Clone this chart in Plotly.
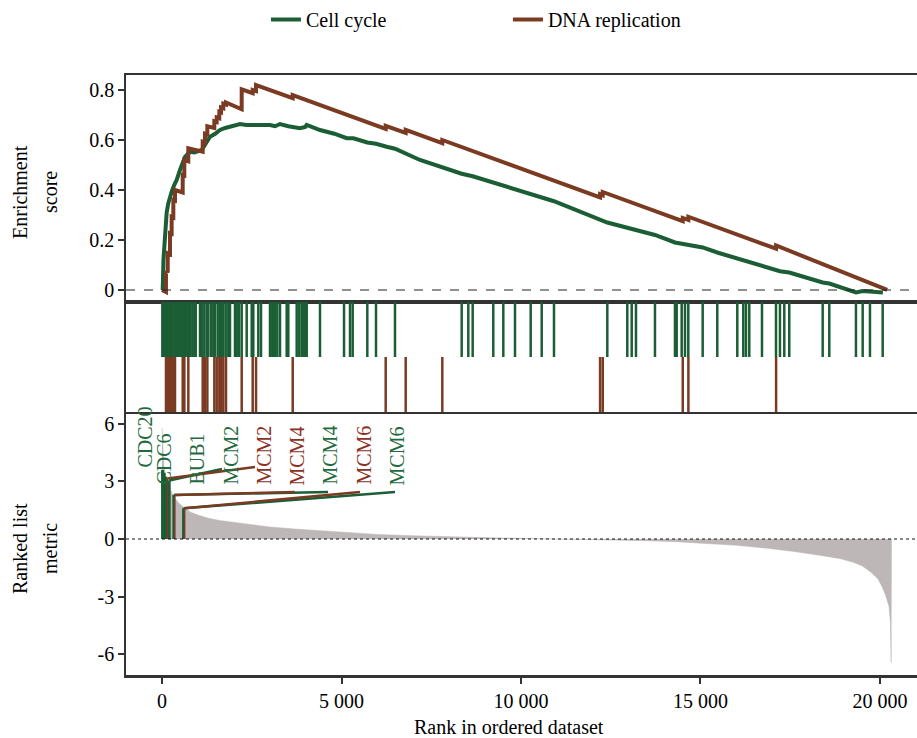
import plotly.graph_objects as go

# ---------------- data ----------------
set_names = ["Cell cycle", "DNA replication"]

# running enrichment score (vertices)
cc_es_rank = [0, 20, 40, 84, 130, 176, 223, 270, 340, 409, 501, 641, 780, 900, 1105, 1200, 1337, 1480,
              1616, 1760, 1894, 2030, 2173, 2350, 2535, 2760, 3009, 3150, 3287, 3520, 3844, 3990, 4030,
              4401, 4800, 5145, 5330, 5720, 5960, 6258, 6490, 7186, 8348, 8654, 9228, 9833, 10270,
              10919, 12404, 13203, 13732, 14289, 14660, 15061, 15468, 16025, 16359, 16713, 17214,
              17473, 18000, 18404, 18588, 19000, 19331, 19518, 19721, 19900, 20080]
cc_es = [0, 0.0, 0.12, 0.253, 0.31, 0.347, 0.375, 0.393, 0.42, 0.44, 0.48, 0.533, 0.553, 0.55, 0.56,
         0.585, 0.613, 0.625, 0.64, 0.648, 0.653, 0.66, 0.664, 0.66, 0.66, 0.658, 0.66, 0.655, 0.664,
         0.655, 0.647, 0.652, 0.66, 0.64, 0.625, 0.607, 0.607, 0.59, 0.585, 0.573, 0.565, 0.52, 0.465,
         0.455, 0.43, 0.405, 0.385, 0.355, 0.27, 0.24, 0.22, 0.19, 0.18, 0.17, 0.15, 0.125, 0.11, 0.095,
         0.075, 0.07, 0.045, 0.03, 0.026, 0.005, -0.01, -0.004, -0.006, -0.01, -0.01]

dna_es_rank = [0, 110, 111, 159, 160, 222, 223, 268, 269, 315, 316, 361, 362, 576, 577, 621, 622, 732,
               733, 1133, 1134, 1197, 1198, 1262, 1263, 1457, 1458, 1522, 1523, 1596, 1597, 1643, 1644,
               1707, 1708, 1782, 1783, 2219, 2220, 2525, 2526, 2618, 2619, 3640, 3641, 6230, 6231,
               6787, 6788, 7807, 7808, 12202, 12203, 12276, 12277, 14505, 14506, 14662, 14663, 17105,
               17106, 20200]
dna_es = [0, -0.008, 0.075, 0.07, 0.147, 0.143, 0.227, 0.225, 0.293, 0.29, 0.36, 0.358, 0.40, 0.39,
          0.46, 0.458, 0.52, 0.515, 0.567, 0.553, 0.593, 0.59, 0.625, 0.622, 0.655, 0.648, 0.675, 0.672,
          0.69, 0.687, 0.713, 0.711, 0.73, 0.727, 0.745, 0.742, 0.75, 0.723, 0.803, 0.787, 0.80, 0.796,
          0.82, 0.767, 0.78, 0.644, 0.657, 0.628, 0.641, 0.587, 0.600, 0.370, 0.383, 0.379, 0.392,
          0.275, 0.288, 0.280, 0.293, 0.165, 0.178, 0.0]

# hit positions (ranks of gene-set members)
cc_hits = [10, 35, 60, 85, 110, 135, 160, 185, 210, 240, 265, 295, 345, 380, 415, 450, 485, 520, 555,
           590, 625, 660, 690, 733, 780, 844, 900, 939, 1058, 1106, 1178, 1245, 1290, 1365, 1429, 1476,
           1552, 1616, 1663, 1708, 1774, 1847, 1894, 2033, 2081, 2145, 2220, 2359, 2499, 2543, 2682,
           2758, 3008, 3072, 3100, 3147, 3212, 3287, 3473, 3518, 3752, 3824, 3891, 3936, 3983, 4031,
           4401, 5070, 5237, 5312, 5719, 5961, 6490, 8348, 8532, 8654, 9228, 9507, 9833, 10270, 10577,
           10919, 12404, 12961, 13084, 13203, 13732, 14289, 14337, 14476, 14568, 14660, 15061, 15468,
           16025, 16192, 16267, 16359, 16713, 17103, 17214, 17334, 17473, 18404, 18588, 19331, 19518,
           19721, 20075]
dna_hits = [111, 160, 223, 269, 316, 362, 577, 622, 733, 1134, 1198, 1263, 1458, 1523, 1597, 1644,
            1708, 1783, 2220, 2526, 2619, 3641, 6231, 6788, 7808, 12203, 12277, 14506, 14663, 17106]

# ranked list metric (points read along the grey area)
metric_rank = [0, 25, 50, 100, 200, 300, 450, 600, 800, 1000, 1300, 1600, 2000, 2500, 3000, 3700, 4500,
               5300, 6000, 7000, 8000, 8600, 9500, 10200, 11000, 12000, 12800, 13500, 14300, 15100,
               16000, 16800, 17600, 18400, 18900, 19250, 19500, 19750, 19950, 20060, 20150, 20250,
               20290, 20310, 20320]
metric_val = [5.8, 4.6, 3.9, 3.3, 2.7, 2.3, 1.9, 1.65, 1.4, 1.25, 1.08, 0.97, 0.87, 0.74, 0.63, 0.52,
              0.41, 0.31, 0.24, 0.17, 0.11, 0.09, 0.05, 0.03, 0.01, -0.02, -0.05, -0.09, -0.14, -0.22,
              -0.33, -0.47, -0.65, -0.87, -1.03, -1.21, -1.4, -1.73, -2.1, -2.5, -2.9, -3.5, -4.3,
              -6.44, 0]

# labelled leading-edge genes
cc_label_genes = ["CDC20", "CDC6", "BUB1", "MCM2", "MCM4", "MCM6"]
cc_label_rank = [15, 60, 105, 200, 330, 600]
cc_label_metric = [3.6, 3.45, 3.25, 3.05, 2.3, 1.6]
dna_label_genes = ["MCM2", "MCM4", "MCM6"]
dna_label_rank = [150, 350, 630]
dna_label_metric = [3.15, 2.3, 1.6]

x_ticks = [0, 5000, 10000, 15000, 20000]
x_ticktext = ["0", "5 000", "10 000", "15 000", "20 000"]
es_ticks = [0, 0.2, 0.4, 0.6, 0.8]
es_ticktext = ["0", "0.2", "0.4", "0.6", "0.8"]
m_ticks = [6, 3, 0, -3, -6]
m_ticktext = ["6", "3", "0", "-3", "-6"]

# ---------------- style / layout ----------------
GREEN = "#1b5e35"
BROWN = "#7a3b22"
GREEN_TXT = "#1f6b3e"
BROWN_TXT = "#8b3226"
GREY = "#bdb7b7"
AX = "#333333"
FONT = "Liberation Serif"
TXT = "#000000"

# label placement: (set, gene) -> label x (rank units), label bottom (metric), segment end point
label_layout = [
    ("cc", "CDC20", -470, 3.6, None),
    ("cc", "CDC6", 30, 2.71, None),
    ("cc", "BUB1", 975, 2.71, None),
    ("cc", "MCM2", 1895, 2.71, (1670, 3.65)),
    ("dna", "MCM2", 2815, 2.71, (2590, 3.75)),
    ("dna", "MCM4", 3760, 2.71, (3700, 2.45)),
    ("cc", "MCM4", 4680, 2.71, (4625, 2.45)),
    ("dna", "MCM6", 5600, 2.71, (5515, 2.45)),
    ("cc", "MCM6", 6545, 2.71, (6490, 2.45)),
]

fig = go.Figure()

# --- top panel: running ES
fig.add_trace(go.Scatter(x=cc_es_rank, y=cc_es, mode="lines", name=set_names[0],
                         line=dict(color=GREEN, width=4), xaxis="x", yaxis="y"))
fig.add_trace(go.Scatter(x=dna_es_rank, y=dna_es, mode="lines", name=set_names[1],
                         line=dict(color=BROWN, width=4), xaxis="x", yaxis="y"))


def vsegs(xs, y0, y1):
    xx, yy = [], []
    for v in xs:
        xx += [v, v, None]
        yy += [y0, y1, None]
    return xx, yy


# --- middle panel: hit ticks
hx, hy = vsegs(cc_hits, 1, 2)
fig.add_trace(go.Scatter(x=hx, y=hy, mode="lines", line=dict(color=GREEN, width=2.5),
                         showlegend=False, xaxis="x2", yaxis="y2", hoverinfo="skip"))
hx, hy = vsegs(dna_hits, 0, 1)
fig.add_trace(go.Scatter(x=hx, y=hy, mode="lines", line=dict(color=BROWN, width=2.5),
                         showlegend=False, xaxis="x2", yaxis="y2", hoverinfo="skip"))

# --- bottom panel: ranked metric
fig.add_trace(go.Scatter(x=metric_rank, y=metric_val, mode="lines", fill="tozeroy",
                         fillcolor=GREY, line=dict(color=GREY, width=0.5),
                         showlegend=False, xaxis="x3", yaxis="y3", hoverinfo="skip"))

# gene bars
bx, by = [], []
for r, m in zip(cc_label_rank, cc_label_metric):
    bx += [r, r, None]
    by += [0, m, None]
fig.add_trace(go.Scatter(x=bx, y=by, mode="lines", line=dict(color=GREEN, width=3),
                         showlegend=False, xaxis="x3", yaxis="y3", hoverinfo="skip"))
bx, by = [], []
for r, m in zip(dna_label_rank, dna_label_metric):
    bx += [r, r, None]
    by += [0, m, None]
fig.add_trace(go.Scatter(x=bx, y=by, mode="lines", line=dict(color=BROWN, width=1.5),
                         showlegend=False, xaxis="x3", yaxis="y3", hoverinfo="skip"))

# segments + labels
lookup = {"cc": dict(zip(cc_label_genes, zip(cc_label_rank, cc_label_metric))),
          "dna": dict(zip(dna_label_genes, zip(dna_label_rank, dna_label_metric)))}
annotations = []
for which in ["cc", "dna"]:
    for s, g, lx, ly, end in label_layout:
        if s != which:
            continue
        col = GREEN if s == "cc" else BROWN
        if end is not None:
            r, m = lookup[s][g]
            fig.add_trace(go.Scatter(x=[r, end[0]], y=[m, end[1]], mode="lines",
                                     line=dict(color=col, width=2.5), showlegend=False,
                                     xaxis="x3", yaxis="y3", hoverinfo="skip"))
for s, g, lx, ly, end in label_layout:
    annotations.append(dict(x=lx, y=ly, xref="x3", yref="y3", text=g, showarrow=False,
                            textangle=-90, xanchor="center", yanchor="bottom",
                            font=dict(family=FONT, size=20,
                                      color=GREEN_TXT if s == "cc" else BROWN_TXT)))

# zero lines
fig.add_shape(type="line", xref="x domain", yref="y", x0=0, x1=1, y0=0, y1=0,
              line=dict(color="#222222", width=1.2, dash="dash"))
fig.add_shape(type="line", xref="x3 domain", yref="y3", x0=0, x1=1, y0=0, y1=0,
              line=dict(color="#111111", width=1.2, dash="dot"))

# axis titles
for txt, px, py in [("Enrichment", 20, 192), ("score", 50, 192),
                    ("Ranked list", 20, 549), ("metric", 50, 549)]:
    annotations.append(dict(x=(px - 126) / 791, y=(675 - py) / 600, xref="paper", yref="paper",
                            text=txt, showarrow=False, textangle=-90, xanchor="center",
                            yanchor="middle", font=dict(family=FONT, size=20, color=TXT)))
annotations.append(dict(x=(509 - 126) / 791, y=(675 - 727) / 600, xref="paper", yref="paper",
                        text="Rank in ordered dataset", showarrow=False, xanchor="center",
                        yanchor="middle", font=dict(family=FONT, size=20, color=TXT)))

xr = [-1003, 21031]
common_x = dict(range=xr, showgrid=False, zeroline=False, showline=True, linecolor=AX)
fig.update_layout(
    width=917, height=738,
    margin=dict(l=126, r=0, t=75, b=63),
    paper_bgcolor="white", plot_bgcolor="white",
    font=dict(family=FONT, size=20, color=TXT),
    showlegend=True,
    legend=dict(orientation="h", xref="container", yref="container", x=0.29, y=1.0,
                xanchor="left", yanchor="top", entrywidth=197, entrywidthmode="pixels",
                itemwidth=30,
                font=dict(family=FONT, size=20, color=TXT), bgcolor="rgba(0,0,0,0)"),
    xaxis=dict(**common_x, anchor="y", mirror=True, linewidth=1.5, showticklabels=False,
               ticks=""),
    yaxis=dict(domain=[0.6217, 1], range=[-0.048, 0.86], tickvals=es_ticks, ticktext=es_ticktext,
               ticks="outside", ticklen=6, tickwidth=1.5, tickcolor=AX, showline=True,
               linecolor=AX, linewidth=1.5, showgrid=False, zeroline=False, anchor="x"),
    xaxis2=dict(**common_x, anchor="y2", mirror=True, linewidth=2, showticklabels=False,
                ticks="", matches="x"),
    yaxis2=dict(domain=[0.4383, 0.6217], range=[0, 2], showticklabels=False, ticks="",
                showline=True, linecolor=AX, linewidth=1.5, showgrid=False, zeroline=False,
                anchor="x2"),
    xaxis3=dict(**common_x, anchor="y3", linewidth=2.5, tickvals=x_ticks, ticktext=x_ticktext,
                ticks="outside", ticklen=6, tickwidth=1.5, tickcolor=AX, matches="x"),
    yaxis3=dict(domain=[0, 0.4383], range=[-7.09, 6.62], tickvals=m_ticks, ticktext=m_ticktext,
                ticks="outside", ticklen=6, tickwidth=1.5, tickcolor=AX, showline=True,
                linecolor=AX, linewidth=1.5, showgrid=False, zeroline=False, anchor="x3"),
    annotations=annotations,
)

fig.write_html("out.html")
